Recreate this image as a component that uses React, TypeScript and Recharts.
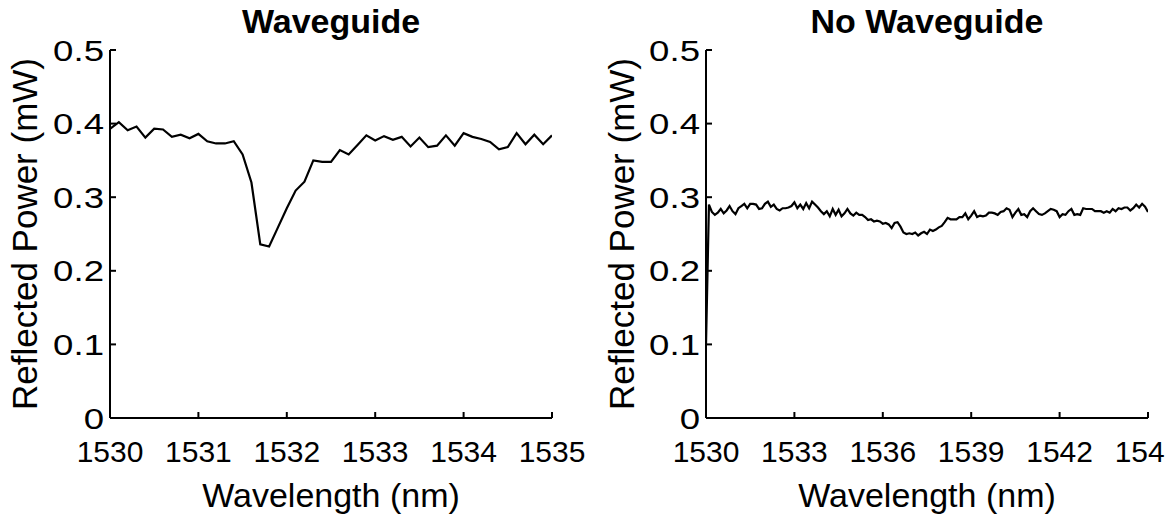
import React from 'react';
import { LineChart, Line, XAxis, YAxis } from 'recharts';

const FONT = '"Liberation Sans", Arial, Helvetica, sans-serif';

// ---- Data ----
const leftTitle = 'Waveguide';
const rightTitle = 'No Waveguide';
const xLabel = 'Wavelength (nm)';
const yLabel = 'Reflected Power (mW)';

const leftStart = 1530;
const rightStart = 1530;
const sampleStep = 0.1;

const leftPower = [
  0.393, 0.402, 0.391, 0.396, 0.381, 0.393, 0.392, 0.382, 0.385, 0.380,
  0.386, 0.376, 0.373, 0.373, 0.376, 0.358, 0.320, 0.236, 0.233, 0.259,
  0.285, 0.309, 0.321, 0.350, 0.348, 0.348, 0.364, 0.358, 0.371, 0.384,
  0.377, 0.383, 0.378, 0.382, 0.369, 0.381, 0.368, 0.370, 0.384, 0.370,
  0.387, 0.382, 0.379, 0.375, 0.365, 0.368, 0.387, 0.372, 0.385, 0.372,
  0.384,
];

const rightPower = [
  0.100, 0.290, 0.280, 0.276, 0.279, 0.284, 0.278, 0.282, 0.288, 0.281,
  0.277, 0.285, 0.288, 0.291, 0.285, 0.291, 0.291, 0.290, 0.284, 0.285,
  0.291, 0.294, 0.287, 0.290, 0.284, 0.282, 0.285, 0.285, 0.286, 0.288,
  0.293, 0.285, 0.290, 0.284, 0.292, 0.285, 0.294, 0.290, 0.286, 0.281,
  0.277, 0.281, 0.274, 0.284, 0.276, 0.283, 0.274, 0.278, 0.284, 0.278,
  0.275, 0.279, 0.276, 0.276, 0.273, 0.269, 0.270, 0.267, 0.268, 0.267,
  0.264, 0.265, 0.263, 0.258, 0.265, 0.266, 0.260, 0.252, 0.250, 0.251,
  0.250, 0.252, 0.248, 0.251, 0.253, 0.250, 0.256, 0.254, 0.256, 0.259,
  0.261, 0.266, 0.272, 0.270, 0.270, 0.270, 0.273, 0.273, 0.278, 0.270,
  0.275, 0.281, 0.273, 0.275, 0.274, 0.275, 0.279, 0.279, 0.278, 0.276,
  0.280, 0.281, 0.285, 0.283, 0.273, 0.279, 0.284, 0.276, 0.277, 0.273,
  0.281, 0.285, 0.281, 0.277, 0.276, 0.278, 0.281, 0.284, 0.283, 0.281,
  0.273, 0.277, 0.276, 0.281, 0.284, 0.276, 0.277, 0.276, 0.285, 0.284,
  0.284, 0.284, 0.281, 0.281, 0.281, 0.279, 0.281, 0.279, 0.284, 0.281,
  0.285, 0.284, 0.286, 0.286, 0.282, 0.285, 0.290, 0.286, 0.291, 0.287,
  0.280,
];

const leftXTicks = [1530, 1531, 1532, 1533, 1534, 1535];
const rightXTicks = [1530, 1533, 1536, 1539, 1542, 1545];
const yTicks = [0, 0.1, 0.2, 0.3, 0.4, 0.5];

const leftData = leftPower.map((p, i) => ({ wl: +(leftStart + i * sampleStep).toFixed(2), p }));
const rightData = rightPower.map((p, i) => ({ wl: +(rightStart + i * sampleStep).toFixed(2), p }));

// y tick label, drawn a little wider as in the reference
function YTick(props: any) {
  const { x, y, payload } = props;
  const sx = 1.22;
  return (
    <text
      x={x}
      y={y}
      dy="0.355em"
      textAnchor="end"
      fill="#000"
      fontSize={30}
      fontFamily={FONT}
      transform={`translate(${x},0) scale(${sx},1) translate(${-x},0)`}
    >
      {payload.value}
    </text>
  );
}

type PanelProps = {
  data: { wl: number; p: number }[];
  xTicks: number[];
  width: number;
  yAxisWidth: number;
  marginRight: number;
  yLabelOffset: number;
};

function Panel({ data, xTicks, width, yAxisWidth, marginRight, yLabelOffset }: PanelProps) {
  const xDomain: [number, number] = [xTicks[0], xTicks[xTicks.length - 1]];
  const axisStroke = { stroke: '#000', strokeWidth: 2 };
  return (
    <LineChart
      width={width}
      height={520}
      data={data}
      margin={{ top: 50, right: marginRight, bottom: 0, left: 0 }}
    >
      <XAxis
        dataKey="wl"
        type="number"
        domain={xDomain}
        ticks={xTicks}
        interval={0}
        allowDataOverflow
        height={102}
        tickSize={-6}
        tickMargin={29}
        axisLine={axisStroke}
        tickLine={axisStroke}
        tick={{ fill: '#000', fontSize: 30, fontFamily: FONT }}
        label={{
          value: xLabel,
          position: 'insideBottom',
          offset: 13,
          fill: '#000',
          fontSize: 34,
          fontFamily: FONT,
        }}
      />
      <XAxis
        xAxisId="top"
        orientation="top"
        type="number"
        domain={xDomain}
        ticks={xTicks}
        interval={0}
        allowDataOverflow
        height={0}
        tickSize={-6}
        axisLine={axisStroke}
        tickLine={axisStroke}
        tick={false}
      />
      <YAxis
        type="number"
        domain={[0, 0.5]}
        ticks={yTicks}
        interval={0}
        allowDataOverflow
        width={yAxisWidth}
        tickSize={-6}
        tickMargin={12}
        axisLine={axisStroke}
        tickLine={axisStroke}
        tick={<YTick />}
        label={{
          value: yLabel,
          angle: -90,
          position: 'insideLeft',
          offset: yLabelOffset,
          fill: '#000',
          fontSize: 35,
          fontFamily: FONT,
          style: { textAnchor: 'middle' },
        }}
      />
      <YAxis
        yAxisId="right"
        orientation="right"
        type="number"
        domain={[0, 0.5]}
        ticks={yTicks}
        interval={0}
        allowDataOverflow
        width={0}
        tickSize={-6}
        axisLine={axisStroke}
        tickLine={axisStroke}
        tick={false}
      />
      <Line
        type="linear"
        dataKey="p"
        stroke="#000"
        strokeWidth={2.2}
        dot={false}
        activeDot={false}
        isAnimationActive={false}
      />
    </LineChart>
  );
}

const titleStyle = (center: number): React.CSSProperties => ({
  position: 'absolute',
  top: 4,
  left: center - 200,
  width: 400,
  textAlign: 'center',
  fontFamily: FONT,
  fontWeight: 'bold',
  fontSize: 34,
  lineHeight: '34px',
  color: '#000',
  whiteSpace: 'nowrap',
});

export default function App() {
  return (
    <div
      style={{
        position: 'absolute',
        left: 0,
        top: 0,
        width: 1176,
        height: 520,
        background: '#fff',
        overflow: 'hidden',
      }}
    >
      <div style={{ position: 'absolute', left: 0, top: 0, width: 600, height: 520 }}>
        <Panel
          data={leftData}
          xTicks={leftXTicks}
          width={600}
          yAxisWidth={110}
          marginRight={48}
          yLabelOffset={25}
        />
      </div>
      <div
        style={{ position: 'absolute', left: 600, top: 0, width: 565, height: 520, overflow: 'hidden' }}
      >
        <Panel
          data={rightData}
          xTicks={rightXTicks}
          width={576}
          yAxisWidth={106}
          marginRight={28}
          yLabelOffset={22}
        />
      </div>
      <div style={titleStyle(331)}>{leftTitle}</div>
      <div style={titleStyle(927)}>{rightTitle}</div>
    </div>
  );
}
